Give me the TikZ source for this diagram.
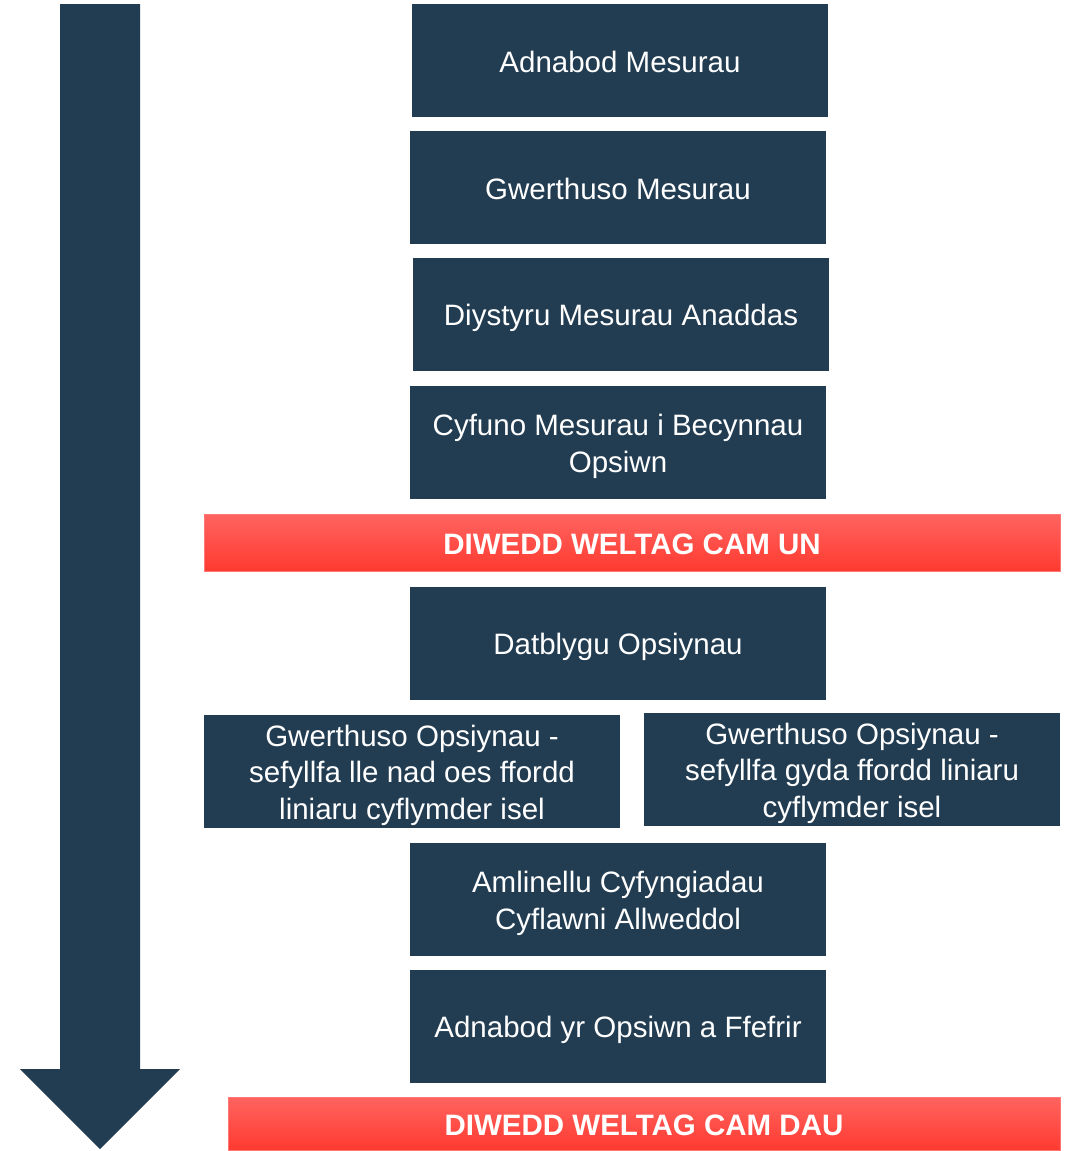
\documentclass[tikz,border=0pt]{standalone}
\usepackage{fontspec}
\setmainfont{Liberation Sans}
\definecolor{navy}{RGB}{34,61,82}
\definecolor{redtop}{RGB}{255,100,96}
\definecolor{redbot}{RGB}{255,58,48}
\definecolor{redline}{RGB}{255,120,118}
% fixed line box: height 29pt, depth 6pt
\newcommand{\lstrut}{\rule[-6pt]{0pt}{35pt}}
\tikzset{
  stage/.style={fill=navy, text=white, inner sep=0pt, align=center,
    minimum width=416, minimum height=113,
    font=\fontsize{29.5}{35}\selectfont},
  endbar/.style={top color=redtop, bottom color=redbot, draw=redline,
    line width=1pt, text=white, inner sep=0pt,
    font=\fontsize{29.5}{35}\selectfont\bfseries}
}
\begin{document}
\begin{tikzpicture}[x=1pt, y=-1pt]
    \useasboundingbox (0,0) rectangle (1071,1151);

    % Big arrow
    \fill[navy] (60,4) -- (140,4) -- (140,1069) -- (180,1069)
        -- (100,1149) -- (20,1069) -- (60,1069) -- cycle;

    % Stage one
    \node[stage] (adnabod) at (620,60.5) {\lstrut Adnabod Mesurau};
    \node[stage] (gwerth) at (618,187.5) {\lstrut Gwerthuso Mesurau};
    \node[stage] (diystyru) at (621,314.5) {\lstrut Diystyru Mesurau Anaddas};
    \node[stage] (cyfuno) at (618,442.5)
        {\lstrut Cyfuno Mesurau i Becynnau\\\lstrut Opsiwn};

    % End of stage one
    \node[endbar, minimum width=856, minimum height=57] (camun) at (632,542.5)
        {\lstrut DIWEDD WELTAG CAM UN};

    % Stage two
    \node[stage] (datblygu) at (618,643) {\lstrut Datblygu Opsiynau};
    \node[stage] (heb) at (412,771.5)
        {\lstrut Gwerthuso Opsiynau -\\\lstrut sefyllfa lle nad oes ffordd\\\lstrut liniaru cyflymder isel};
    \node[stage] (gyda) at (852,769.5)
        {\lstrut Gwerthuso Opsiynau -\\\lstrut sefyllfa gyda ffordd liniaru\\\lstrut cyflymder isel};
    \node[stage] (amlinellu) at (618,899.5)
        {\lstrut Amlinellu Cyfyngiadau\\\lstrut Cyflawni Allweddol};
    \node[stage] (ffefrir) at (618,1026.5) {\lstrut Adnabod yr Opsiwn a Ffefrir};

    % End of stage two
    \node[endbar, minimum width=832, minimum height=53] (camdau) at (644,1123.5)
        {\lstrut DIWEDD WELTAG CAM DAU};
\end{tikzpicture}
\end{document}
